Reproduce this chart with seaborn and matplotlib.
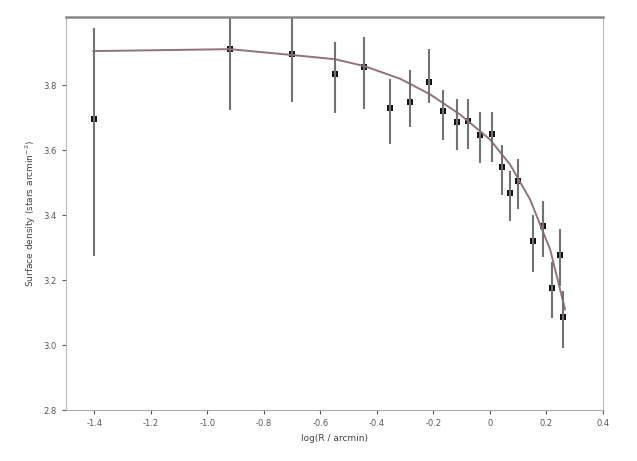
import matplotlib
matplotlib.use("Agg")
import matplotlib.pyplot as plt
import seaborn as sns
import pandas as pd

# Observed profile
log_r = [-1.40, -0.92, -0.70, -0.55, -0.445, -0.353, -0.283, -0.216, -0.166, -0.116,
         -0.077, -0.035, 0.007, 0.043, 0.071, 0.099, 0.152, 0.188, 0.220, 0.248, 0.259]
log_sigma = [3.695, 3.91, 3.895, 3.834, 3.856, 3.73, 3.748, 3.81, 3.72, 3.686,
             3.689, 3.646, 3.649, 3.547, 3.467, 3.504, 3.32, 3.365, 3.177, 3.278, 3.087]
err_up = [0.28, 0.11, 0.125, 0.10, 0.093, 0.09, 0.10, 0.10, 0.065, 0.07,
          0.07, 0.07, 0.07, 0.07, 0.07, 0.07, 0.08, 0.08, 0.08, 0.08, 0.08]
err_low = [0.42, 0.185, 0.148, 0.12, 0.13, 0.11, 0.077, 0.065, 0.09, 0.085,
           0.085, 0.085, 0.085, 0.085, 0.085, 0.085, 0.095, 0.095, 0.095, 0.095, 0.095]

# Model curve
model_x = [-1.404, -0.92, -0.70, -0.548, -0.445, -0.318, -0.212, -0.106, 0.0,
           0.071, 0.142, 0.213, 0.266]
model_y = [3.905, 3.911, 3.893, 3.88, 3.859, 3.82, 3.772, 3.71, 3.633,
           3.556, 3.448, 3.294, 3.109]

x_ticks = [-1.4, -1.2, -1.0, -0.8, -0.6, -0.4, -0.2, 0.0, 0.2, 0.4]
x_tick_labels = ["-1.4", "-1.2", "-1.0", "-0.8", "-0.6", "-0.4", "-0.2", "0", "0.2", "0.4"]
y_ticks = [2.8, 3.0, 3.2, 3.4, 3.6, 3.8]
y_tick_labels = ["2.8", "3.0", "3.2", "3.4", "3.6", "3.8"]

sns.set_style("white")
plt.rcParams['font.family'] = ['DejaVu Sans']

fig = plt.figure(figsize=(6.37, 4.61), dpi=100)
ax = fig.add_axes([66/637, 1-410/461, (603-66)/637, (410-17)/461])

obs = pd.DataFrame({"log_r": log_r, "log_sigma": log_sigma,
                    "err_up": err_up, "err_low": err_low})
mod = pd.DataFrame({"x": model_x, "y": model_y})

sns.lineplot(data=mod, x="x", y="y", ax=ax, color="#8f747c", lw=1.4,
             estimator=None, sort=False)
ax.errorbar(obs["log_r"], obs["log_sigma"], yerr=[obs["err_low"], obs["err_up"]],
            fmt="none", ecolor="#727272", elinewidth=1.5, capsize=0)
sns.scatterplot(data=obs, x="log_r", y="log_sigma", ax=ax, marker="s", s=18,
                color="#111111", edgecolor="#111111", linewidth=0)

ax.set_xlim(-1.5, 0.4)
ax.set_ylim(2.8, 4.01)
ax.set_xticks(x_ticks)
ax.set_xticklabels(x_tick_labels)
ax.set_yticks(y_ticks)
ax.set_yticklabels(y_tick_labels)
ax.tick_params(axis="both", labelsize=6, colors="#555555", length=3, direction="out",
               bottom=True, left=True)
ax.set_xlabel("log(R / arcmin)", fontsize=6.5, color="#444444")
ax.set_ylabel("Surface density (stars arcmin$^{-2}$)", fontsize=6.5, color="#444444")

for side, sp in ax.spines.items():
    sp.set_color("#bbbbbb")
    sp.set_linewidth(0.8)
ax.spines["top"].set_color("#888888")
ax.spines["top"].set_linewidth(1.8)
ax.spines["bottom"].set_color("#aaaaaa")

fig.savefig("out.png", dpi=100)
